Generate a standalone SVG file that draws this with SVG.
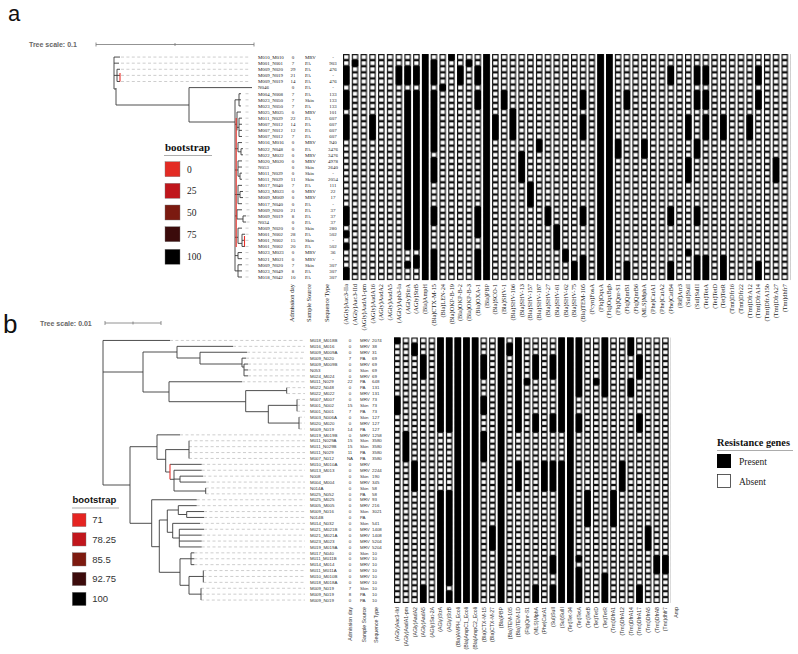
<svg xmlns="http://www.w3.org/2000/svg" width="798" height="654" viewBox="0 0 798 654">
<style>
.ta{font-family:"Liberation Serif","Times New Roman",serif;font-size:4.9px;fill:#222}
.tb{font-family:"Liberation Sans",Arial,sans-serif;font-size:4.4px;fill:#333}
.m{text-anchor:middle}
.ha{font-family:"Liberation Serif","Times New Roman",serif;font-size:6.3px;fill:#222;text-anchor:end}
.hb{font-family:"Liberation Sans",Arial,sans-serif;font-size:5.2px;fill:#333;text-anchor:end}
.br{fill:none;stroke:#3a3a3a;stroke-width:0.9}
.rd{fill:none;stroke:#e8302a;stroke-width:1.1}
.ds{fill:none;stroke:#b8b8b8;stroke-width:0.7;stroke-dasharray:3 2.4}
.p{fill:#000}
.big{font-family:"Liberation Sans",Arial,sans-serif;fill:#111}
.sc{font-family:"Liberation Sans",Arial,sans-serif;font-size:7px;font-weight:bold;fill:#666}
.scl{fill:none;stroke:#777;stroke-width:0.8}
.lgt{font-family:"Liberation Serif","Times New Roman",serif;font-weight:bold;fill:#111}
.lga{font-family:"Liberation Serif","Times New Roman",serif;font-size:9.5px;fill:#222}
.lgb{font-family:"Liberation Sans",Arial,sans-serif;font-size:9.5px;fill:#333}
.sw{stroke:#777;stroke-width:0.4}
</style>
<defs>
<pattern id="pa" patternUnits="userSpaceOnUse" x="343" y="54" width="8.77" height="6.11"><rect x="0.6" y="0.6" width="5.3" height="4.9" fill="#fff" stroke="#000" stroke-width="1.1"/></pattern>
<pattern id="pb" patternUnits="userSpaceOnUse" x="394" y="337.5" width="8.65" height="5.9"><rect x="0.6" y="0.6" width="5.3" height="4.7" fill="#fff" stroke="#000" stroke-width="1.1"/></pattern>
</defs>
<rect width="798" height="654" fill="#fff"/>

<!-- ===== Panel a ===== -->
<text class="big" x="8" y="20.5" font-size="22">a</text>
<g id="a-scale">
<text class="sc" x="29" y="47">Tree scale: 0.1</text>
<path class="scl" d="M96,44.5 H254 M96,42.5 V46.5 M175,43 V46 M254,42.5 V46.5"/>
</g>

<g id="a-connectors">
<path class="ds" d="M121,57.05 H250 M121,63.16 H250 M121,69.27 H250 M121,75.38 H250 M121,81.49 H250 M245.5,93.71 H250 M245.5,99.82 H250 M245.5,105.93 H250 M245.5,112.04 H250 M245.5,118.15 H250 M245.5,124.26 H250 M245.5,130.37 H250 M245.5,136.48 H250 M245.5,142.59 H250 M245.5,148.7 H250 M245.5,154.81 H250 M245.5,160.92 H250 M245.5,167.03 H250 M245.5,173.14 H250 M245.5,179.25 H250 M245.5,185.36 H250 M245.5,191.47 H250 M245.5,197.58 H250 M245.5,203.69 H250 M246.5,209.8 H250 M246.5,215.91 H250 M246.5,222.02 H250 M245.5,228.13 H250 M245.5,234.24 H250 M245.5,240.35 H250 M245.5,246.46 H250 M245.5,252.57 H250 M245.5,258.68 H250 M245.5,264.79 H250 M245.5,270.9 H250 M245.5,277.01 H250"/>
<path class="br" d="M114,57.05 H120 M114,63.16 H119 M114,57.05 V89 H116 M116,88 V105 H189 M114,75.38 H117 M117,69.27 V81.49 M117,69.27 H120 M117,75.38 H120 M117,81.49 H120 M189,87.6 V122 M189,87.6 H252 M189,122 H235 M235,99.82 V270.9
M235,99.82 H239 M239,93.71 V105.93 M239,93.71 H241 M239,99.82 H241 M239,105.93 H241
M235,124.26 H237 M237,112.04 V130.37 M237,112.04 H241 M237,127.3 H239 M239,118.15 V136.48 M239,118.15 H242 M239,124.26 H242 M239,130.37 H242 M239,136.48 H242
M235,148.7 H238 M238,142.59 V151.8 M238,142.59 H242 M238,151.8 H241 M241,148.7 V154.81 M241,148.7 H243 M241,154.81 H243
M235,170 H238 M238,160.92 V176.2 M238,160.92 H242 M238,167.03 H242 M238,176.2 H240 M240,173.14 V179.25 M240,173.14 H242 M240,179.25 H242
M235,194.5 H238 M238,185.36 V203.69 M238,185.36 H242 M238,194.5 H240 M240,191.47 V197.58 M240,191.47 H243 M240,197.58 H243 M238,203.69 H242
M235,215.91 H237 M237,209.8 V219 M237,209.8 H242 M237,219 H243 M243,215.91 V222.02 M243,215.91 H246 M243,222.02 H246
M235,237.3 H238 M238,228.13 V243.4 M238,228.13 H242 M238,243.4 H242 M242,234.24 V246.46 M242,234.24 H245 M242,240.35 H245 M242,246.46 H245
M235,255.6 H238 M238,252.57 V258.68 M238,252.57 H242 M238,258.68 H242
M235,270.9 H238 M238,264.79 V277.01 M238,264.79 H242 M238,270.9 H242 M238,277.01 H242"/>
<path class="rd" d="M120,73 V81.5 M236.2,118 V247 M244.5,236 V246.5"/>
</g>

<g id="a-legend">
<rect x="161" y="138" width="52" height="130" fill="#fff"/>
<text class="lgt" x="165" y="151" font-size="11">bootstrap</text>
<path d="M164,155.5 H212" stroke="#888" stroke-width="0.7"/>
<rect class="sw" x="165" y="161.7" width="15" height="15" fill="#e32b24"/>
<rect class="sw" x="165" y="183.3" width="15" height="15" fill="#c0161b"/>
<rect class="sw" x="165" y="205" width="15" height="15" fill="#7b1a10"/>
<rect class="sw" x="165" y="226.7" width="15" height="15" fill="#3b0b0b"/>
<rect class="sw" x="165" y="249.3" width="15" height="15" fill="#000"/>
<text class="lga" x="187" y="172.5">0</text>
<text class="lga" x="187" y="194.1">25</text>
<text class="lga" x="187" y="215.8">50</text>
<text class="lga" x="187" y="237.5">75</text>
<text class="lga" x="187" y="260.1">100</text>
</g>

<g id="a-leaves">
<g id="a1"><text class="ta" x="258" y="58.9">M010_M010</text><text class="ta m" x="293" y="58.9">0</text><text class="ta" x="305" y="58.9">MRV</text><text class="ta m" x="333" y="58.9">-</text></g>
<g id="a2"><text class="ta" x="258" y="65.01">M001_N001</text><text class="ta m" x="293" y="65.01">7</text><text class="ta" x="305" y="65.01">PA</text><text class="ta m" x="333" y="65.01">903</text></g>
<g id="a3"><text class="ta" x="258" y="71.12">M009_N020</text><text class="ta m" x="293" y="71.12">29</text><text class="ta" x="305" y="71.12">PA</text><text class="ta m" x="333" y="71.12">476</text></g>
<g id="a4"><text class="ta" x="258" y="77.23">M009_N019</text><text class="ta m" x="293" y="77.23">21</text><text class="ta" x="305" y="77.23">PA</text><text class="ta m" x="333" y="77.23">-</text></g>
<g id="a5"><text class="ta" x="258" y="83.34">M009_N019</text><text class="ta m" x="293" y="83.34">14</text><text class="ta" x="305" y="83.34">PA</text><text class="ta m" x="333" y="83.34">476</text></g>
<g id="a6"><text class="ta" x="258" y="89.45">N046</text><text class="ta m" x="293" y="89.45">0</text><text class="ta" x="305" y="89.45">PA</text><text class="ta m" x="333" y="89.45">-</text></g>
<g id="a7"><text class="ta" x="258" y="95.56">M004_N008</text><text class="ta m" x="293" y="95.56">7</text><text class="ta" x="305" y="95.56">PA</text><text class="ta m" x="333" y="95.56">133</text></g>
<g id="a8"><text class="ta" x="258" y="101.67">M023_N050</text><text class="ta m" x="293" y="101.67">7</text><text class="ta" x="305" y="101.67">Skin</text><text class="ta m" x="333" y="101.67">133</text></g>
<g id="a9"><text class="ta" x="258" y="107.78">M023_N050</text><text class="ta m" x="293" y="107.78">7</text><text class="ta" x="305" y="107.78">PA</text><text class="ta m" x="333" y="107.78">133</text></g>
<g id="a10"><text class="ta" x="258" y="113.89">M025_M025</text><text class="ta m" x="293" y="113.89">0</text><text class="ta" x="305" y="113.89">MRV</text><text class="ta m" x="333" y="113.89">101</text></g>
<g id="a11"><text class="ta" x="258" y="120">M011_N029</text><text class="ta m" x="293" y="120">22</text><text class="ta" x="305" y="120">PA</text><text class="ta m" x="333" y="120">607</text></g>
<g id="a12"><text class="ta" x="258" y="126.11">M007_N012</text><text class="ta m" x="293" y="126.11">14</text><text class="ta" x="305" y="126.11">PA</text><text class="ta m" x="333" y="126.11">607</text></g>
<g id="a13"><text class="ta" x="258" y="132.22">M007_N012</text><text class="ta m" x="293" y="132.22">12</text><text class="ta" x="305" y="132.22">PA</text><text class="ta m" x="333" y="132.22">607</text></g>
<g id="a14"><text class="ta" x="258" y="138.33">M007_N012</text><text class="ta m" x="293" y="138.33">7</text><text class="ta" x="305" y="138.33">PA</text><text class="ta m" x="333" y="138.33">607</text></g>
<g id="a15"><text class="ta" x="258" y="144.44">M016_M016</text><text class="ta m" x="293" y="144.44">0</text><text class="ta" x="305" y="144.44">MRV</text><text class="ta m" x="333" y="144.44">940</text></g>
<g id="a16"><text class="ta" x="258" y="150.55">M022_N048</text><text class="ta m" x="293" y="150.55">0</text><text class="ta" x="305" y="150.55">PA</text><text class="ta m" x="333" y="150.55">3476</text></g>
<g id="a17"><text class="ta" x="258" y="156.66">M022_M022</text><text class="ta m" x="293" y="156.66">0</text><text class="ta" x="305" y="156.66">MRV</text><text class="ta m" x="333" y="156.66">3476</text></g>
<g id="a18"><text class="ta" x="258" y="162.77">M020_M020</text><text class="ta m" x="293" y="162.77">0</text><text class="ta" x="305" y="162.77">MRV</text><text class="ta m" x="333" y="162.77">4978</text></g>
<g id="a19"><text class="ta" x="258" y="168.88">N053</text><text class="ta m" x="293" y="168.88">0</text><text class="ta" x="305" y="168.88">Skin</text><text class="ta m" x="333" y="168.88">2640</text></g>
<g id="a20"><text class="ta" x="258" y="174.99">M011_N029</text><text class="ta m" x="293" y="174.99">0</text><text class="ta" x="305" y="174.99">Skin</text><text class="ta m" x="333" y="174.99">-</text></g>
<g id="a21"><text class="ta" x="258" y="181.1">M011_N029</text><text class="ta m" x="293" y="181.1">11</text><text class="ta" x="305" y="181.1">Skin</text><text class="ta m" x="333" y="181.1">2054</text></g>
<g id="a22"><text class="ta" x="258" y="187.21">M017_N040</text><text class="ta m" x="293" y="187.21">7</text><text class="ta" x="305" y="187.21">PA</text><text class="ta m" x="333" y="187.21">111</text></g>
<g id="a23"><text class="ta" x="258" y="193.32">M023_M023</text><text class="ta m" x="293" y="193.32">0</text><text class="ta" x="305" y="193.32">MRV</text><text class="ta m" x="333" y="193.32">22</text></g>
<g id="a24"><text class="ta" x="258" y="199.43">M009_M009</text><text class="ta m" x="293" y="199.43">0</text><text class="ta" x="305" y="199.43">MRV</text><text class="ta m" x="333" y="199.43">17</text></g>
<g id="a25"><text class="ta" x="258" y="205.54">M017_N040</text><text class="ta m" x="293" y="205.54">0</text><text class="ta" x="305" y="205.54">PA</text><text class="ta m" x="333" y="205.54">-</text></g>
<g id="a26"><text class="ta" x="258" y="211.65">M009_N020</text><text class="ta m" x="293" y="211.65">21</text><text class="ta" x="305" y="211.65">PA</text><text class="ta m" x="333" y="211.65">37</text></g>
<g id="a27"><text class="ta" x="258" y="217.76">M009_N019</text><text class="ta m" x="293" y="217.76">8</text><text class="ta" x="305" y="217.76">PA</text><text class="ta m" x="333" y="217.76">37</text></g>
<g id="a28"><text class="ta" x="258" y="223.87">N034</text><text class="ta m" x="293" y="223.87">0</text><text class="ta" x="305" y="223.87">PA</text><text class="ta m" x="333" y="223.87">37</text></g>
<g id="a29"><text class="ta" x="258" y="229.98">M009_N020</text><text class="ta m" x="293" y="229.98">0</text><text class="ta" x="305" y="229.98">Skin</text><text class="ta m" x="333" y="229.98">280</text></g>
<g id="a30"><text class="ta" x="258" y="236.09">M001_N002</text><text class="ta m" x="293" y="236.09">28</text><text class="ta" x="305" y="236.09">PA</text><text class="ta m" x="333" y="236.09">502</text></g>
<g id="a31"><text class="ta" x="258" y="242.2">M001_N002</text><text class="ta m" x="293" y="242.2">15</text><text class="ta" x="305" y="242.2">Skin</text><text class="ta m" x="333" y="242.2">-</text></g>
<g id="a32"><text class="ta" x="258" y="248.31">M001_N002</text><text class="ta m" x="293" y="248.31">20</text><text class="ta" x="305" y="248.31">PA</text><text class="ta m" x="333" y="248.31">502</text></g>
<g id="a33"><text class="ta" x="258" y="254.42">M023_M023</text><text class="ta m" x="293" y="254.42">0</text><text class="ta" x="305" y="254.42">MRV</text><text class="ta m" x="333" y="254.42">36</text></g>
<g id="a34"><text class="ta" x="258" y="260.53">M021_M021</text><text class="ta m" x="293" y="260.53">0</text><text class="ta" x="305" y="260.53">MRV</text><text class="ta m" x="333" y="260.53">-</text></g>
<g id="a35"><text class="ta" x="258" y="266.64">M009_N020</text><text class="ta m" x="293" y="266.64">7</text><text class="ta" x="305" y="266.64">Skin</text><text class="ta m" x="333" y="266.64">307</text></g>
<g id="a36"><text class="ta" x="258" y="272.75">M023_N049</text><text class="ta m" x="293" y="272.75">8</text><text class="ta" x="305" y="272.75">PA</text><text class="ta m" x="333" y="272.75">307</text></g>
<g id="a37"><text class="ta" x="258" y="278.86">M018_N042</text><text class="ta m" x="293" y="278.86">10</text><text class="ta" x="305" y="278.86">PA</text><text class="ta m" x="333" y="278.86">307</text></g>
</g>

<g id="a-heatmap">
<rect x="343" y="54" width="447.27" height="226.07" fill="url(#pa)"/>
<g class="p">
<rect x="343" y="66.22" width="6.5" height="18.33"/><rect x="343" y="90.66" width="6.5" height="18.33"/><rect x="343" y="115.1" width="6.5" height="24.44"/><rect x="343" y="206.75" width="6.5" height="18.33"/><rect x="343" y="231.19" width="6.5" height="6.11"/><rect x="343" y="243.41" width="6.5" height="6.11"/><rect x="343" y="267.85" width="6.5" height="12.22"/>
<rect x="351.77" y="60.11" width="6.5" height="6.11"/>
<rect x="369.31" y="115.1" width="6.5" height="24.44"/>
<rect x="395.62" y="66.22" width="6.5" height="18.33"/>
<rect x="404.39" y="66.22" width="6.5" height="18.33"/><rect x="404.39" y="90.66" width="6.5" height="158.86"/><rect x="404.39" y="261.74" width="6.5" height="6.11"/>
<rect x="413.16" y="66.22" width="6.5" height="18.33"/><rect x="413.16" y="90.66" width="6.5" height="158.86"/><rect x="413.16" y="255.63" width="6.5" height="12.22"/>
<rect x="421.93" y="54" width="6.5" height="226.07"/>
<rect x="430.7" y="60.11" width="6.5" height="24.44"/><rect x="430.7" y="90.66" width="6.5" height="61.1"/><rect x="430.7" y="157.87" width="6.5" height="24.44"/><rect x="430.7" y="206.75" width="6.5" height="18.33"/><rect x="430.7" y="249.52" width="6.5" height="30.55"/>
<rect x="439.47" y="84.55" width="6.5" height="6.11"/>
<rect x="448.24" y="54" width="6.5" height="6.11"/>
<rect x="457.01" y="66.22" width="6.5" height="18.33"/>
<rect x="465.78" y="60.11" width="6.5" height="6.11"/>
<rect x="474.55" y="66.22" width="6.5" height="18.33"/><rect x="474.55" y="90.66" width="6.5" height="18.33"/><rect x="474.55" y="206.75" width="6.5" height="30.55"/><rect x="474.55" y="249.52" width="6.5" height="30.55"/>
<rect x="483.32" y="54" width="6.5" height="226.07"/>
<rect x="492.09" y="115.1" width="6.5" height="24.44"/>
<rect x="500.86" y="90.66" width="6.5" height="18.33"/>
<rect x="509.63" y="108.99" width="6.5" height="30.55"/>
<rect x="518.4" y="151.76" width="6.5" height="30.55"/>
<rect x="527.17" y="182.31" width="6.5" height="24.44"/>
<rect x="535.94" y="139.54" width="6.5" height="12.22"/>
<rect x="544.71" y="206.75" width="6.5" height="18.33"/>
<rect x="553.48" y="225.08" width="6.5" height="24.44"/>
<rect x="562.25" y="249.52" width="6.5" height="12.22"/>
<rect x="571.02" y="261.74" width="6.5" height="18.33"/>
<rect x="579.79" y="90.66" width="6.5" height="18.33"/><rect x="579.79" y="115.1" width="6.5" height="24.44"/><rect x="579.79" y="206.75" width="6.5" height="18.33"/><rect x="579.79" y="255.63" width="6.5" height="24.44"/>
<rect x="597.33" y="54" width="6.5" height="226.07"/>
<rect x="606.1" y="54" width="6.5" height="226.07"/>
<rect x="614.87" y="139.54" width="6.5" height="18.33"/>
<rect x="623.64" y="90.66" width="6.5" height="18.33"/><rect x="623.64" y="261.74" width="6.5" height="18.33"/>
<rect x="641.18" y="139.54" width="6.5" height="18.33"/>
<rect x="667.49" y="66.22" width="6.5" height="18.33"/><rect x="667.49" y="206.75" width="6.5" height="18.33"/><rect x="667.49" y="261.74" width="6.5" height="18.33"/>
<rect x="685.03" y="115.1" width="6.5" height="24.44"/><rect x="685.03" y="157.87" width="6.5" height="24.44"/><rect x="685.03" y="249.52" width="6.5" height="6.11"/>
<rect x="693.8" y="66.22" width="6.5" height="18.33"/><rect x="693.8" y="90.66" width="6.5" height="18.33"/><rect x="693.8" y="139.54" width="6.5" height="18.33"/><rect x="693.8" y="206.75" width="6.5" height="18.33"/><rect x="693.8" y="255.63" width="6.5" height="24.44"/>
<rect x="702.57" y="66.22" width="6.5" height="18.33"/><rect x="702.57" y="90.66" width="6.5" height="18.33"/><rect x="702.57" y="115.1" width="6.5" height="24.44"/><rect x="702.57" y="255.63" width="6.5" height="24.44"/>
<rect x="720.11" y="115.1" width="6.5" height="24.44"/><rect x="720.11" y="255.63" width="6.5" height="24.44"/>
<rect x="746.42" y="115.1" width="6.5" height="24.44"/>
<rect x="755.19" y="66.22" width="6.5" height="18.33"/><rect x="755.19" y="90.66" width="6.5" height="18.33"/><rect x="755.19" y="261.74" width="6.5" height="18.33"/>
<rect x="772.73" y="157.87" width="6.5" height="24.44"/>
</g>
</g>

<g id="a-headers">
<text class="ha" transform="rotate(-90 294 284)" x="294" y="284">Admission day</text>
<text class="ha" transform="rotate(-90 311 284)" x="311" y="284">Sample Source</text>
<text class="ha" transform="rotate(-90 329 284)" x="329" y="284">Sequence Type</text>
<text class="ha" transform="rotate(-90 348.3 284)" x="348.3" y="284">(AGly)Aac3-IIa</text>
<text class="ha" transform="rotate(-90 357.07 284)" x="357.07" y="284">(AGly)Aac3-IId</text>
<text class="ha" transform="rotate(-90 365.84 284)" x="365.84" y="284">(AGly)AadA1-pm</text>
<text class="ha" transform="rotate(-90 374.61 284)" x="374.61" y="284">(AGly)AadA16</text>
<text class="ha" transform="rotate(-90 383.38 284)" x="383.38" y="284">(AGly)AadA2</text>
<text class="ha" transform="rotate(-90 392.15 284)" x="392.15" y="284">(AGly)AadA5</text>
<text class="ha" transform="rotate(-90 400.92 284)" x="400.92" y="284">(AGly)Aph3-Ia</text>
<text class="ha" transform="rotate(-90 409.69 284)" x="409.69" y="284">(AGly)StrA</text>
<text class="ha" transform="rotate(-90 418.46 284)" x="418.46" y="284">(AGly)StrB</text>
<text class="ha" transform="rotate(-90 427.23 284)" x="427.23" y="284">(Bla)AmpH</text>
<text class="ha" transform="rotate(-90 436 284)" x="436" y="284">(Bla)CTX-M-15</text>
<text class="ha" transform="rotate(-90 444.77 284)" x="444.77" y="284">(Bla)LEN-24</text>
<text class="ha" transform="rotate(-90 453.54 284)" x="453.54" y="284">(Bla)OKP-B-19</text>
<text class="ha" transform="rotate(-90 462.31 284)" x="462.31" y="284">(Bla)OKP-B-2</text>
<text class="ha" transform="rotate(-90 471.08 284)" x="471.08" y="284">(Bla)OKP-B-3</text>
<text class="ha" transform="rotate(-90 479.85 284)" x="479.85" y="284">(Bla)OXA-1</text>
<text class="ha" transform="rotate(-90 488.62 284)" x="488.62" y="284">(Bla)PBP</text>
<text class="ha" transform="rotate(-90 497.39 284)" x="497.39" y="284">(Bla)SCO-1</text>
<text class="ha" transform="rotate(-90 506.16 284)" x="506.16" y="284">(Bla)SHV-1</text>
<text class="ha" transform="rotate(-90 514.93 284)" x="514.93" y="284">(Bla)SHV-106</text>
<text class="ha" transform="rotate(-90 523.7 284)" x="523.7" y="284">(Bla)SHV-13</text>
<text class="ha" transform="rotate(-90 532.47 284)" x="532.47" y="284">(Bla)SHV-157</text>
<text class="ha" transform="rotate(-90 541.24 284)" x="541.24" y="284">(Bla)SHV-187</text>
<text class="ha" transform="rotate(-90 550.01 284)" x="550.01" y="284">(Bla)SHV-27</text>
<text class="ha" transform="rotate(-90 558.78 284)" x="558.78" y="284">(Bla)SHV-61</text>
<text class="ha" transform="rotate(-90 567.55 284)" x="567.55" y="284">(Bla)SHV-62</text>
<text class="ha" transform="rotate(-90 576.32 284)" x="576.32" y="284">(Bla)SHV-75</text>
<text class="ha" transform="rotate(-90 585.09 284)" x="585.09" y="284">(Bla)TEM-105</text>
<text class="ha" transform="rotate(-90 593.86 284)" x="593.86" y="284">(Fcyn)FosA</text>
<text class="ha" transform="rotate(-90 602.63 284)" x="602.63" y="284">(Flq)OqxA</text>
<text class="ha" transform="rotate(-90 611.4 284)" x="611.4" y="284">(Flq)OqxBgb</text>
<text class="ha" transform="rotate(-90 620.17 284)" x="620.17" y="284">(Flq)Qnr-S1</text>
<text class="ha" transform="rotate(-90 628.94 284)" x="628.94" y="284">(Flq)QnrB1</text>
<text class="ha" transform="rotate(-90 637.71 284)" x="637.71" y="284">(Flq)QnrB6</text>
<text class="ha" transform="rotate(-90 646.48 284)" x="646.48" y="284">(MLS)MphA</text>
<text class="ha" transform="rotate(-90 655.25 284)" x="655.25" y="284">(Phe)CatA1</text>
<text class="ha" transform="rotate(-90 664.02 284)" x="664.02" y="284">(Phe)CatA2</text>
<text class="ha" transform="rotate(-90 672.79 284)" x="672.79" y="284">(Phe)CatB4</text>
<text class="ha" transform="rotate(-90 681.56 284)" x="681.56" y="284">(Rif)Arr3</text>
<text class="ha" transform="rotate(-90 690.33 284)" x="690.33" y="284">(Sul)SulI</text>
<text class="ha" transform="rotate(-90 699.1 284)" x="699.1" y="284">(Sul)SulII</text>
<text class="ha" transform="rotate(-90 707.87 284)" x="707.87" y="284">(Tet)TetA</text>
<text class="ha" transform="rotate(-90 716.64 284)" x="716.64" y="284">(Tet)TetD</text>
<text class="ha" transform="rotate(-90 725.41 284)" x="725.41" y="284">(Tet)TetR</text>
<text class="ha" transform="rotate(-90 734.18 284)" x="734.18" y="284">(Tmt)Dfr16</text>
<text class="ha" transform="rotate(-90 742.95 284)" x="742.95" y="284">(Tmt)Dfr22</text>
<text class="ha" transform="rotate(-90 751.72 284)" x="751.72" y="284">(Tmt)DfrA12</text>
<text class="ha" transform="rotate(-90 760.49 284)" x="760.49" y="284">(Tmt)DfrA14</text>
<text class="ha" transform="rotate(-90 769.26 284)" x="769.26" y="284">(Tmt)DfrA15b</text>
<text class="ha" transform="rotate(-90 778.03 284)" x="778.03" y="284">(Tmt)DfrA27</text>
<text class="ha" transform="rotate(-90 786.8 284)" x="786.8" y="284">(Tmt)dhfr7</text>
</g>

<!-- ===== Panel b ===== -->
<text class="big" x="3" y="333" font-size="26">b</text>
<g id="b-scale">
<text class="sc" x="40" y="325.5">Tree scale: 0.01</text>
<path class="scl" d="M105,323 H161 M105,321 V325 M133,321.5 V324.5 M161,321 V325"/>
</g>

<g id="b-connectors">
<path class="ds" d="M170,340.45 H305 M233,346.35 H305 M247,352.25 H305 M246,358.15 H305 M248,364.05 H305 M248,369.95 H305 M248,375.85 H305 M242,381.75 H305 M287,387.65 H305 M287,393.55 H305 M297,399.45 H305 M297,405.35 H305 M297,411.25 H305 M299,417.15 H305 M299,423.05 H305 M299,428.95 H305 M180,434.85 H305 M189,440.75 H305 M189,446.65 H305 M189,452.55 H305 M189,458.45 H305 M201.7,464.35 H305 M201.7,470.25 H305 M203,476.15 H305 M206,482.05 H305 M205.7,487.95 H305 M205.7,493.85 H305 M196.7,499.75 H305 M196.7,505.65 H305 M204,511.55 H305 M204,517.45 H305 M200,523.35 H305 M204,529.25 H305 M201.7,535.15 H305 M201.7,541.05 H305 M201.7,546.95 H305 M194.3,552.85 H305 M194.3,558.75 H305 M194.3,564.65 H305 M203.3,570.55 H305 M203.3,576.45 H305 M203.3,582.35 H305 M201,588.25 H305 M201,594.15 H305 M201,600.05 H305"/>
<path class="br" d="M103,340.45 V485 M103,340.45 H170 M103,372 H143 M143,352 V392 M143,352 H177 M177,346.35 V358 M177,346.35 H233 M177,358 H200 M200,352.25 V364 M200,352.25 H247 M200,364 H242 M242,358.15 V367 M242,358.15 H246 M242,367 H244 M244,364.05 V375.85 M244,364.05 H248 M244,369.95 H248 M244,375.85 H248
M143,392 H169 M169,381.75 V401.7 M169,381.75 H242 M169,401.7 H245.7 M245.7,390.6 V411.7 M245.7,390.6 H286.7 M286.7,387.65 V393.55 M245.7,411.7 H268.3 M268.3,405.35 V423.05 M268.3,405.35 H297 M297,399.45 V411.25 M268.3,423.05 H299 M299,417.15 V428.95
M103,485 H130 M130,446.7 V523.3 M130,446.7 H157 M157,434.85 V459.3 M157,434.85 H180 M157,459.3 H165.7 M165.7,449.6 V472 M165.7,449.6 H189 M189,440.75 V458.45 M165.7,472 H170 M170,464.35 H201.7 M170,479.3 H174 M174,470.25 V491 M174,470.25 H201.7 M174,479.1 H180 M180,476.15 V482.05 M180,476.15 H203 M180,482.05 H206 M174,491 H205.7 M205.7,487.95 V493.85
M130,523.3 H151.7 M151.7,499.75 V546.7 M151.7,499.75 H196.7 M151.7,546.7 H159.3 M159.3,520 V572.3 M159.3,520 H167.3 M167.3,510 V532.3 M167.3,510 H178.3 M178.3,505.65 V514.5 M178.3,505.65 H196.7 M178.3,514.5 H186.7 M186.7,511.55 V517.45 M186.7,511.55 H204 M186.7,517.45 H204 M167.3,532.3 H172.7 M172.7,523.35 V538 M172.7,523.35 H200 M172.7,538 H179.3 M179.3,529.25 V546.95 M179.3,529.25 H204 M179.3,535.15 H201.7 M179.3,541.05 H201.7 M179.3,546.95 H201.7
M159.3,572.3 H180 M180,558.75 V585.3 M180,558.75 H191 M191,552.85 V564.65 M191,552.85 H194.3 M191,558.75 H194.3 M191,564.65 H194.3 M180,585.3 H189 M189,576.45 V594.15 M189,576.45 H203.3 M203.3,570.55 V582.35 M189,594.15 H201 M201,588.25 V600.05"/>
<path class="rd" d="M170,464.35 V479.3"/>
</g>

<g id="b-legend">
<rect x="65" y="493" width="55" height="114" fill="#fff"/>
<text class="lgt" x="72.5" y="503" font-size="9.5" style="font-family:'Liberation Sans',Arial,sans-serif">bootstrap</text>
<path d="M72,508 H119" stroke="#888" stroke-width="0.7"/>
<rect class="sw" x="72.3" y="513.3" width="13.7" height="13.3" fill="#e52421"/>
<rect class="sw" x="72.3" y="532.7" width="13.7" height="13.3" fill="#c1161c"/>
<rect class="sw" x="72.3" y="552.7" width="13.7" height="13.3" fill="#7d1a0f"/>
<rect class="sw" x="72.3" y="572.3" width="13.7" height="13.3" fill="#3c0b0b"/>
<rect class="sw" x="72.3" y="592.3" width="13.7" height="13.3" fill="#000"/>
<text class="lgb" x="92.3" y="523.3">71</text>
<text class="lgb" x="92.3" y="542.7">78.25</text>
<text class="lgb" x="92.3" y="562.7">85.5</text>
<text class="lgb" x="92.3" y="582.3">92.75</text>
<text class="lgb" x="92.3" y="602.3">100</text>
</g>

<g id="b-leaves">
<g id="b1"><text class="tb" x="310" y="342.1">M018_M018B</text><text class="tb m" x="350" y="342.1">0</text><text class="tb" x="360" y="342.1">MRV</text><text class="tb" x="372" y="342.1">2074</text></g>
<g id="b2"><text class="tb" x="310" y="348">M016_M016</text><text class="tb m" x="350" y="348">0</text><text class="tb" x="360" y="348">MRV</text><text class="tb" x="372" y="348">38</text></g>
<g id="b3"><text class="tb" x="310" y="353.9">M009_M009A</text><text class="tb m" x="350" y="353.9">0</text><text class="tb" x="360" y="353.9">MRV</text><text class="tb" x="372" y="353.9">31</text></g>
<g id="b4"><text class="tb" x="310" y="359.8">M009_N020</text><text class="tb m" x="350" y="359.8">7</text><text class="tb" x="360" y="359.8">PA</text><text class="tb" x="372" y="359.8">69</text></g>
<g id="b5"><text class="tb" x="310" y="365.7">M009_M009B</text><text class="tb m" x="350" y="365.7">0</text><text class="tb" x="360" y="365.7">MRV</text><text class="tb" x="372" y="365.7">69</text></g>
<g id="b6"><text class="tb" x="310" y="371.6">N053</text><text class="tb m" x="350" y="371.6">0</text><text class="tb" x="360" y="371.6">Skin</text><text class="tb" x="372" y="371.6">69</text></g>
<g id="b7"><text class="tb" x="310" y="377.5">M024_M024</text><text class="tb m" x="350" y="377.5">0</text><text class="tb" x="360" y="377.5">MRV</text><text class="tb" x="372" y="377.5">69</text></g>
<g id="b8"><text class="tb" x="310" y="383.4">M011_N029</text><text class="tb m" x="350" y="383.4">22</text><text class="tb" x="360" y="383.4">PA</text><text class="tb" x="372" y="383.4">648</text></g>
<g id="b9"><text class="tb" x="310" y="389.3">M022_N048</text><text class="tb m" x="350" y="389.3">0</text><text class="tb" x="360" y="389.3">PA</text><text class="tb" x="372" y="389.3">131</text></g>
<g id="b10"><text class="tb" x="310" y="395.2">M022_M022</text><text class="tb m" x="350" y="395.2">0</text><text class="tb" x="360" y="395.2">MRV</text><text class="tb" x="372" y="395.2">131</text></g>
<g id="b11"><text class="tb" x="310" y="401.1">M007_M007</text><text class="tb m" x="350" y="401.1">0</text><text class="tb" x="360" y="401.1">MRV</text><text class="tb" x="372" y="401.1">73</text></g>
<g id="b12"><text class="tb" x="310" y="407">M001_N002</text><text class="tb m" x="350" y="407">15</text><text class="tb" x="360" y="407">Skin</text><text class="tb" x="372" y="407">73</text></g>
<g id="b13"><text class="tb" x="310" y="412.9">M001_N001</text><text class="tb m" x="350" y="412.9">7</text><text class="tb" x="360" y="412.9">PA</text><text class="tb" x="372" y="412.9">73</text></g>
<g id="b14"><text class="tb" x="310" y="418.8">M003_N006A</text><text class="tb m" x="350" y="418.8">0</text><text class="tb" x="360" y="418.8">Skin</text><text class="tb" x="372" y="418.8">127</text></g>
<g id="b15"><text class="tb" x="310" y="424.7">M020_M020</text><text class="tb m" x="350" y="424.7">0</text><text class="tb" x="360" y="424.7">MRV</text><text class="tb" x="372" y="424.7">127</text></g>
<g id="b16"><text class="tb" x="310" y="430.6">M009_N019</text><text class="tb m" x="350" y="430.6">14</text><text class="tb" x="360" y="430.6">PA</text><text class="tb" x="372" y="430.6">127</text></g>
<g id="b17"><text class="tb" x="310" y="436.5">M019_M019B</text><text class="tb m" x="350" y="436.5">0</text><text class="tb" x="360" y="436.5">MRV</text><text class="tb" x="372" y="436.5">1258</text></g>
<g id="b18"><text class="tb" x="310" y="442.4">M011_N029A</text><text class="tb m" x="350" y="442.4">15</text><text class="tb" x="360" y="442.4">Skin</text><text class="tb" x="372" y="442.4">3580</text></g>
<g id="b19"><text class="tb" x="310" y="448.3">M011_N029B</text><text class="tb m" x="350" y="448.3">15</text><text class="tb" x="360" y="448.3">Skin</text><text class="tb" x="372" y="448.3">3580</text></g>
<g id="b20"><text class="tb" x="310" y="454.2">M011_N029</text><text class="tb m" x="350" y="454.2">11</text><text class="tb" x="360" y="454.2">PA</text><text class="tb" x="372" y="454.2">3580</text></g>
<g id="b21"><text class="tb" x="310" y="460.1">M007_N012</text><text class="tb m" x="350" y="460.1">NA</text><text class="tb" x="360" y="460.1">PA</text><text class="tb" x="372" y="460.1">3580</text></g>
<g id="b22"><text class="tb" x="310" y="466">M010_M010A</text><text class="tb m" x="350" y="466">0</text><text class="tb" x="360" y="466">MRV</text></g>
<g id="b23"><text class="tb" x="310" y="471.9">M013_M013</text><text class="tb m" x="350" y="471.9">0</text><text class="tb" x="360" y="471.9">MRV</text><text class="tb" x="372" y="471.9">2244</text></g>
<g id="b24"><text class="tb" x="310" y="477.8">N008</text><text class="tb m" x="350" y="477.8">0</text><text class="tb" x="360" y="477.8">Skin</text><text class="tb" x="372" y="477.8">190</text></g>
<g id="b25"><text class="tb" x="310" y="483.7">M004_M004</text><text class="tb m" x="350" y="483.7">0</text><text class="tb" x="360" y="483.7">MRV</text><text class="tb" x="372" y="483.7">345</text></g>
<g id="b26"><text class="tb" x="310" y="489.6">N014A</text><text class="tb m" x="350" y="489.6">0</text><text class="tb" x="360" y="489.6">Skin</text><text class="tb" x="372" y="489.6">58</text></g>
<g id="b27"><text class="tb" x="310" y="495.5">M025_N052</text><text class="tb m" x="350" y="495.5">0</text><text class="tb" x="360" y="495.5">PA</text><text class="tb" x="372" y="495.5">58</text></g>
<g id="b28"><text class="tb" x="310" y="501.4">M025_M025</text><text class="tb m" x="350" y="501.4">0</text><text class="tb" x="360" y="501.4">MRV</text><text class="tb" x="372" y="501.4">93</text></g>
<g id="b29"><text class="tb" x="310" y="507.3">M005_M005</text><text class="tb m" x="350" y="507.3">0</text><text class="tb" x="360" y="507.3">MRV</text><text class="tb" x="372" y="507.3">216</text></g>
<g id="b30"><text class="tb" x="310" y="513.2">M009_N016</text><text class="tb m" x="350" y="513.2">0</text><text class="tb" x="360" y="513.2">Skin</text><text class="tb" x="372" y="513.2">3021</text></g>
<g id="b31"><text class="tb" x="310" y="519.1">N014B</text><text class="tb m" x="350" y="519.1">0</text><text class="tb" x="360" y="519.1">PA</text></g>
<g id="b32"><text class="tb" x="310" y="525">M014_N032</text><text class="tb m" x="350" y="525">0</text><text class="tb" x="360" y="525">Skin</text><text class="tb" x="372" y="525">541</text></g>
<g id="b33"><text class="tb" x="310" y="530.9">M021_M021B</text><text class="tb m" x="350" y="530.9">0</text><text class="tb" x="360" y="530.9">MRV</text><text class="tb" x="372" y="530.9">1408</text></g>
<g id="b34"><text class="tb" x="310" y="536.8">M021_M021A</text><text class="tb m" x="350" y="536.8">0</text><text class="tb" x="360" y="536.8">MRV</text><text class="tb" x="372" y="536.8">1408</text></g>
<g id="b35"><text class="tb" x="310" y="542.7">M023_M023</text><text class="tb m" x="350" y="542.7">0</text><text class="tb" x="360" y="542.7">MRV</text><text class="tb" x="372" y="542.7">5204</text></g>
<g id="b36"><text class="tb" x="310" y="548.6">M019_M019A</text><text class="tb m" x="350" y="548.6">0</text><text class="tb" x="360" y="548.6">MRV</text><text class="tb" x="372" y="548.6">5204</text></g>
<g id="b37"><text class="tb" x="310" y="554.5">M017_N040</text><text class="tb m" x="350" y="554.5">0</text><text class="tb" x="360" y="554.5">Skin</text><text class="tb" x="372" y="554.5">10</text></g>
<g id="b38"><text class="tb" x="310" y="560.4">M011_M011B</text><text class="tb m" x="350" y="560.4">0</text><text class="tb" x="360" y="560.4">MRV</text><text class="tb" x="372" y="560.4">10</text></g>
<g id="b39"><text class="tb" x="310" y="566.3">M014_M014</text><text class="tb m" x="350" y="566.3">0</text><text class="tb" x="360" y="566.3">MRV</text><text class="tb" x="372" y="566.3">10</text></g>
<g id="b40"><text class="tb" x="310" y="572.2">M011_M011A</text><text class="tb m" x="350" y="572.2">0</text><text class="tb" x="360" y="572.2">MRV</text><text class="tb" x="372" y="572.2">10</text></g>
<g id="b41"><text class="tb" x="310" y="578.1">M010_M010B</text><text class="tb m" x="350" y="578.1">0</text><text class="tb" x="360" y="578.1">MRV</text><text class="tb" x="372" y="578.1">10</text></g>
<g id="b42"><text class="tb" x="310" y="584">M018_M018A</text><text class="tb m" x="350" y="584">0</text><text class="tb" x="360" y="584">MRV</text><text class="tb" x="372" y="584">10</text></g>
<g id="b43"><text class="tb" x="310" y="589.9">M009_N019</text><text class="tb m" x="350" y="589.9">7</text><text class="tb" x="360" y="589.9">Skin</text><text class="tb" x="372" y="589.9">10</text></g>
<g id="b44"><text class="tb" x="310" y="595.8">M009_N019</text><text class="tb m" x="350" y="595.8">8</text><text class="tb" x="360" y="595.8">PA</text><text class="tb" x="372" y="595.8">10</text></g>
<g id="b45"><text class="tb" x="310" y="601.7">M009_N019</text><text class="tb m" x="350" y="601.7">0</text><text class="tb" x="360" y="601.7">PA</text><text class="tb" x="372" y="601.7">10</text></g>
</g>

<g id="b-heatmap">
<rect x="394" y="337.5" width="276.8" height="265.5" fill="url(#pb)"/>
<g class="p">
<rect x="394" y="337.5" width="6.5" height="5.9"/><rect x="394" y="396.5" width="6.5" height="17.7"/>
<rect x="402.65" y="431.9" width="6.5" height="29.5"/>
<rect x="411.3" y="343.4" width="6.5" height="11.8"/><rect x="411.3" y="461.4" width="6.5" height="29.5"/>
<rect x="419.95" y="355.2" width="6.5" height="23.6"/><rect x="419.95" y="585.3" width="6.5" height="17.7"/>
<rect x="437.25" y="337.5" width="6.5" height="94.4"/><rect x="437.25" y="490.9" width="6.5" height="112.1"/>
<rect x="445.9" y="337.5" width="6.5" height="94.4"/><rect x="445.9" y="490.9" width="6.5" height="94.4"/><rect x="445.9" y="591.2" width="6.5" height="11.8"/>
<rect x="454.55" y="337.5" width="6.5" height="265.5"/>
<rect x="463.2" y="337.5" width="6.5" height="265.5"/>
<rect x="471.85" y="337.5" width="6.5" height="265.5"/>
<rect x="480.5" y="355.2" width="6.5" height="23.6"/><rect x="480.5" y="396.5" width="6.5" height="17.7"/><rect x="480.5" y="431.9" width="6.5" height="29.5"/>
<rect x="489.15" y="526.3" width="6.5" height="23.6"/>
<rect x="497.8" y="337.5" width="6.5" height="265.5"/>
<rect x="506.45" y="343.4" width="6.5" height="11.8"/>
<rect x="515.1" y="337.5" width="6.5" height="94.4"/><rect x="515.1" y="461.4" width="6.5" height="29.5"/>
<rect x="523.75" y="378.8" width="6.5" height="5.9"/>
<rect x="532.4" y="355.2" width="6.5" height="23.6"/><rect x="532.4" y="414.2" width="6.5" height="17.7"/><rect x="532.4" y="585.3" width="6.5" height="17.7"/>
<rect x="541.05" y="461.4" width="6.5" height="29.5"/>
<rect x="549.7" y="355.2" width="6.5" height="23.6"/><rect x="549.7" y="414.2" width="6.5" height="17.7"/><rect x="549.7" y="461.4" width="6.5" height="29.5"/><rect x="549.7" y="555.8" width="6.5" height="17.7"/><rect x="549.7" y="585.3" width="6.5" height="17.7"/>
<rect x="558.35" y="337.5" width="6.5" height="94.4"/><rect x="558.35" y="461.4" width="6.5" height="141.6"/>
<rect x="567" y="337.5" width="6.5" height="265.5"/>
<rect x="575.65" y="337.5" width="6.5" height="59"/><rect x="575.65" y="414.2" width="6.5" height="17.7"/><rect x="575.65" y="555.8" width="6.5" height="5.9"/><rect x="575.65" y="567.6" width="6.5" height="35.4"/>
<rect x="584.3" y="490.9" width="6.5" height="35.4"/>
<rect x="592.95" y="378.8" width="6.5" height="5.9"/>
<rect x="601.6" y="337.5" width="6.5" height="59"/><rect x="601.6" y="573.5" width="6.5" height="29.5"/>
<rect x="610.25" y="490.9" width="6.5" height="35.4"/>
<rect x="618.9" y="461.4" width="6.5" height="29.5"/>
<rect x="627.55" y="337.5" width="6.5" height="17.7"/><rect x="627.55" y="378.8" width="6.5" height="17.7"/>
<rect x="636.2" y="355.2" width="6.5" height="23.6"/><rect x="636.2" y="414.2" width="6.5" height="17.7"/><rect x="636.2" y="585.3" width="6.5" height="17.7"/>
<rect x="644.85" y="526.3" width="6.5" height="23.6"/>
<rect x="653.5" y="555.8" width="6.5" height="17.7"/>
<rect x="662.15" y="555.8" width="6.5" height="17.7"/>
</g>
</g>

<g id="b-headers">
<text class="hb" transform="rotate(-90 352 607)" x="352" y="607">Admission day</text>
<text class="hb" transform="rotate(-90 366 607)" x="366" y="607">Sample Source</text>
<text class="hb" transform="rotate(-90 378 607)" x="378" y="607">Sequence Type</text>
<text class="hb" transform="rotate(-90 399.2 607)" x="399.2" y="607">(AGly)Aac3-IId</text>
<text class="hb" transform="rotate(-90 407.85 607)" x="407.85" y="607">(AGly)AadA1-pm</text>
<text class="hb" transform="rotate(-90 416.5 607)" x="416.5" y="607">(AGly)AadA2</text>
<text class="hb" transform="rotate(-90 425.15 607)" x="425.15" y="607">(AGly)AadA5</text>
<text class="hb" transform="rotate(-90 433.8 607)" x="433.8" y="607">(AGly)Sat-2A</text>
<text class="hb" transform="rotate(-90 442.45 607)" x="442.45" y="607">(AGly)StrA</text>
<text class="hb" transform="rotate(-90 451.1 607)" x="451.1" y="607">(AGly)StrB</text>
<text class="hb" transform="rotate(-90 459.75 607)" x="459.75" y="607">(Bla)AMPH_Ecoli</text>
<text class="hb" transform="rotate(-90 468.4 607)" x="468.4" y="607">(Bla)AmpC1_Ecoli</text>
<text class="hb" transform="rotate(-90 477.05 607)" x="477.05" y="607">(Bla)AmpC2_Ecoli</text>
<text class="hb" transform="rotate(-90 485.7 607)" x="485.7" y="607">(Bla)CTX-M-15</text>
<text class="hb" transform="rotate(-90 494.35 607)" x="494.35" y="607">(Bla)CTX-M-27</text>
<text class="hb" transform="rotate(-90 503 607)" x="503" y="607">(Bla)PBP</text>
<text class="hb" transform="rotate(-90 511.65 607)" x="511.65" y="607">(Bla)TEM-105</text>
<text class="hb" transform="rotate(-90 520.3 607)" x="520.3" y="607">(Bla)TEM-1D</text>
<text class="hb" transform="rotate(-90 528.95 607)" x="528.95" y="607">(Flq)Qnr-S1</text>
<text class="hb" transform="rotate(-90 537.6 607)" x="537.6" y="607">(MLS)MphA</text>
<text class="hb" transform="rotate(-90 546.25 607)" x="546.25" y="607">(Phe)CatA1</text>
<text class="hb" transform="rotate(-90 554.9 607)" x="554.9" y="607">(Sul)SulI</text>
<text class="hb" transform="rotate(-90 563.55 607)" x="563.55" y="607">(Sul)SulII</text>
<text class="hb" transform="rotate(-90 572.2 607)" x="572.2" y="607">(Tet)Tet-34</text>
<text class="hb" transform="rotate(-90 580.85 607)" x="580.85" y="607">(Tet)TetA</text>
<text class="hb" transform="rotate(-90 589.5 607)" x="589.5" y="607">(Tet)TetB</text>
<text class="hb" transform="rotate(-90 598.15 607)" x="598.15" y="607">(Tet)TetD</text>
<text class="hb" transform="rotate(-90 606.8 607)" x="606.8" y="607">(Tet)TetR</text>
<text class="hb" transform="rotate(-90 615.45 607)" x="615.45" y="607">(Tmt)DfrA1</text>
<text class="hb" transform="rotate(-90 624.1 607)" x="624.1" y="607">(Tmt)DfrA12</text>
<text class="hb" transform="rotate(-90 632.75 607)" x="632.75" y="607">(Tmt)DfrA14</text>
<text class="hb" transform="rotate(-90 641.4 607)" x="641.4" y="607">(Tmt)DfrA17</text>
<text class="hb" transform="rotate(-90 650.05 607)" x="650.05" y="607">(Tmt)DfrA5</text>
<text class="hb" transform="rotate(-90 658.7 607)" x="658.7" y="607">(Tmt)DfrA8</text>
<text class="hb" transform="rotate(-90 667.35 607)" x="667.35" y="607">(Tmt)dhfr7</text>
<text class="hb" transform="rotate(-90 678 607)" x="678" y="607">Amp</text>
</g>

<g id="resistance-legend">
<text class="lgt" x="717" y="446" font-size="10.3">Resistance genes</text>
<path d="M717,450.5 H793" stroke="#888" stroke-width="0.7"/>
<rect x="717" y="454" width="14" height="14" fill="#000"/>
<text class="lga" x="739" y="464.5">Present</text>
<rect x="717.5" y="474.5" width="13" height="13" fill="#fff" stroke="#333" stroke-width="0.8"/>
<text class="lga" x="739" y="484.5">Absent</text>
</g>
</svg>
